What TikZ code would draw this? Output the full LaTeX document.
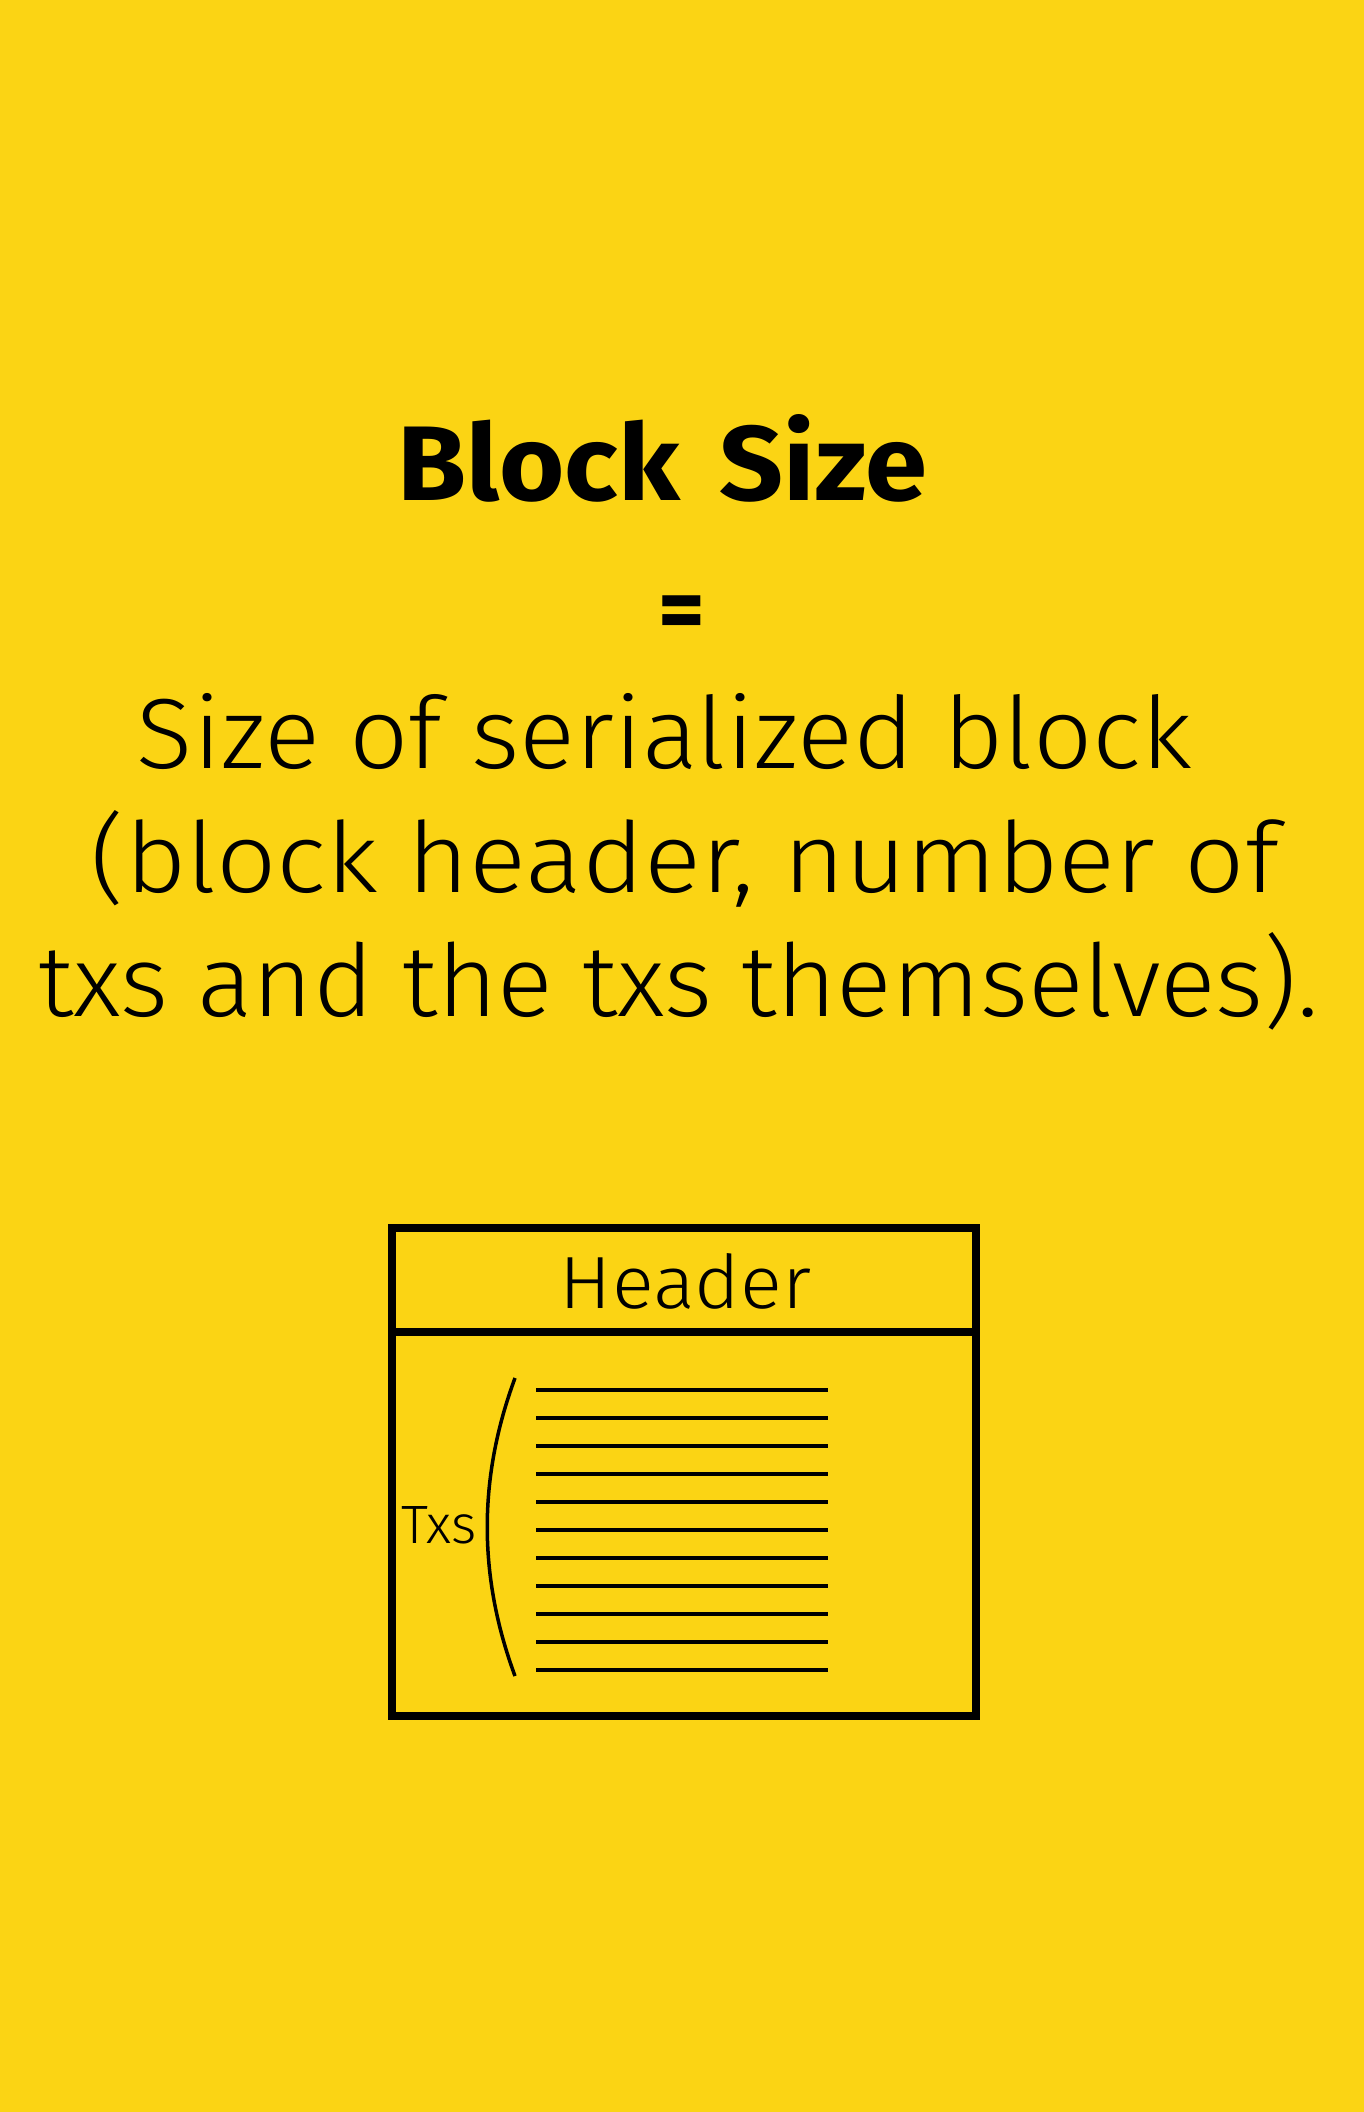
\documentclass[tikz,border=0pt]{standalone}
\usepackage{fontspec}
\usepackage{graphicx}
\newfontfamily\bodyfont{Fira Sans Light}
\newfontfamily\titlefont{Fira Sans Bold}
\definecolor{bg}{RGB}{251,212,20}
\begin{document}
\begin{tikzpicture}[x=1pt,y=-1pt,
  txt/.style={inner sep=0pt, anchor=base, text=black},
  frame/.style={draw=black, line width=8pt},
  txline/.style={draw=black, line width=4pt},
  bracketline/.style={draw=black, line width=3.5pt}]
\fill[bg] (0,0) rectangle (1364,2112);
\useasboundingbox (0,0) rectangle (1364,2112);
\node[txt] (title) at (662.5,500) {\resizebox{529pt}{86pt}{\titlefont Block\hspace{0.35em}Size}};
\node[txt] (eq) at (682,640) {\fontsize{90pt}{90pt}\titlefont =};
\node[txt] (l1) at (664.5,768) {\resizebox{1055pt}{75pt}{\bodyfont Size of serialized block}};
\node[txt] (l2) at (685,892) {\resizebox{1188pt}{82pt}{\bodyfont (block header, number of}};
\node[txt] (l3) at (678.5,1016) {\resizebox{1279pt}{84pt}{\bodyfont txs and the txs themselves).}};
\node[frame, inner sep=0pt, minimum width=584pt, minimum height=488pt] (block) at (684,1472) {};
\draw[frame] ([yshift=-108pt]block.north west) -- ([yshift=-108pt]block.north east);
\node[txt] (hdr) at (685.5,1308) {\resizebox{251pt}{55pt}{\bodyfont Header}};
\node[txt] (txs) at (439,1543) {\resizebox{75pt}{37pt}{\bodyfont Txs}};
\draw[bracketline] (515,1378) .. controls (478,1478) and (478,1576) .. (515,1676);
\foreach \i in {0,...,10} \draw[txline] (536,{1390+28*\i}) -- (828,{1390+28*\i});
\end{tikzpicture}
\end{document}
